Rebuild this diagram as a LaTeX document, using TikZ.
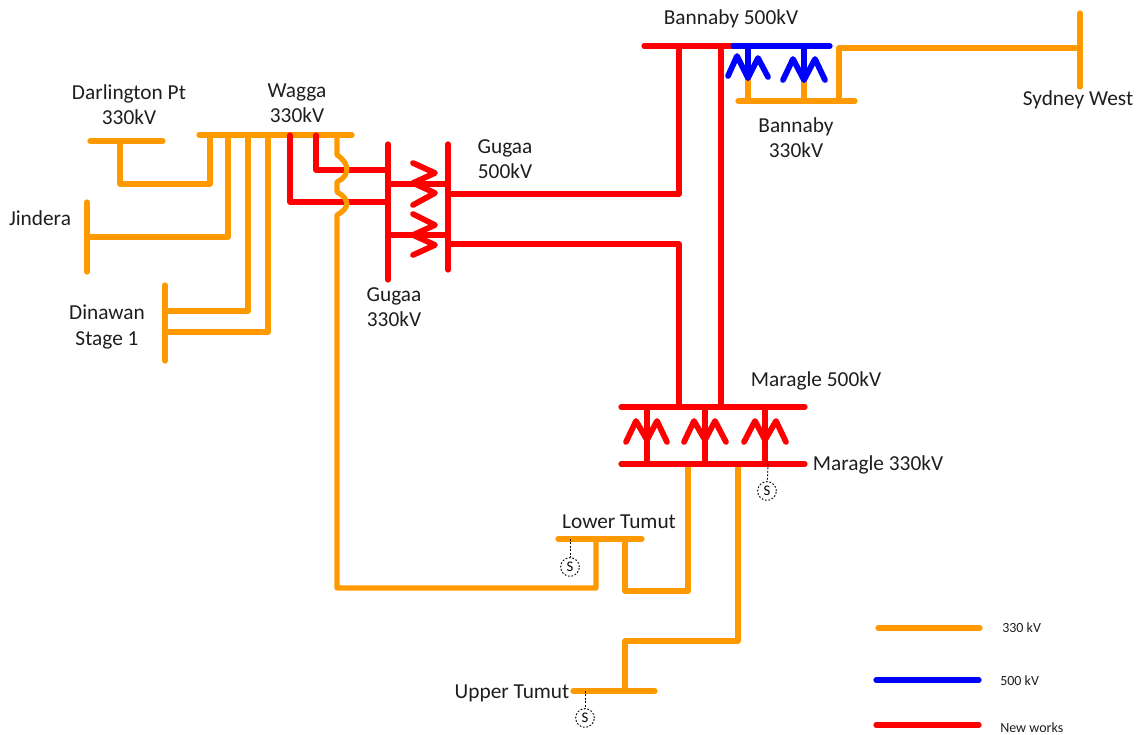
\documentclass[tikz,border=0pt]{standalone}
\usepackage{fontspec}
\setmainfont{Carlito}
\begin{document}
\begin{tikzpicture}[x=0.75pt,y=-0.75pt,line join=round,
  wire/.style={line width=3.9pt,line cap=round},
  kv/.style={wire,draw={rgb,255:red,255;green,153;blue,0}},
  nw/.style={wire,draw={rgb,255:red,255;green,0;blue,0}},
  hv/.style={wire,draw={rgb,255:red,0;green,0;blue,255}},
  coil/.style={line width=4.3pt},
  lbl/.style={font=\fontsize{16}{18.8}\selectfont,align=center,inner sep=0pt,text={rgb,255:red,30;green,30;blue,30}},
  leg/.style={font=\fontsize{10.5}{12}\selectfont,inner sep=0pt,text={rgb,255:red,30;green,30;blue,30}},
  gen/.style={circle,draw,dash pattern=on 1.3pt off 1.3pt,line width=0.7pt,minimum size=14pt,inner sep=0pt,font=\fontsize{11}{12}\selectfont},
  tap/.style={dash pattern=on 1.3pt off 1.3pt,line width=0.7pt}]
\useasboundingbox (0,0) rectangle (1136,735);
% bus ends and tee points
\coordinate (darlA) at (90,141); \coordinate (darlB) at (163,141); \coordinate (darlT) at (120,141);
\coordinate (waggaA) at (199,135); \coordinate (waggaB) at (352,135);
\coordinate (w1) at (210,135); \coordinate (w2) at (228,135); \coordinate (w3) at (248,135); \coordinate (w4) at (268,135);
\coordinate (w5) at (290,135); \coordinate (w6) at (316,135); \coordinate (w7) at (337,135);
\coordinate (jinA) at (87,202); \coordinate (jinB) at (87,272); \coordinate (jinT) at (87,237);
\coordinate (dinA) at (165,285); \coordinate (dinB) at (165,361); \coordinate (dinT1) at (165,311); \coordinate (dinT2) at (165,332);
\coordinate (g3A) at (388,144); \coordinate (g3B) at (388,280); \coordinate (g3T1) at (388,170); \coordinate (g3T2) at (388,202);
\coordinate (g3X1) at (388,184); \coordinate (g3X2) at (388,235);
\coordinate (g5A) at (448,144); \coordinate (g5B) at (448,270); \coordinate (g5X1) at (448,184); \coordinate (g5X2) at (448,235);
\coordinate (g5T1) at (448,194); \coordinate (g5T2) at (448,244);
\coordinate (b5A) at (644,46); \coordinate (b5M) at (733,46); \coordinate (b5B) at (830,46);
\coordinate (b5T1) at (679,46); \coordinate (b5T2) at (721,46); \coordinate (b5S1) at (748,46); \coordinate (b5S2) at (804,46);
\coordinate (b3A) at (738,101); \coordinate (b3B) at (855,101); \coordinate (b3S1) at (748,101); \coordinate (b3S2) at (804,101); \coordinate (b3T) at (839,101);
\coordinate (b1M) at (748,78); \coordinate (b2M) at (804,80);
\coordinate (sydA) at (1080,13); \coordinate (sydB) at (1080,87); \coordinate (sydT) at (1080,48);
\coordinate (m5A) at (621,407); \coordinate (m5B) at (805,407); \coordinate (m5T1) at (679,407); \coordinate (m5T2) at (721,407);
\coordinate (m5S1) at (647,407); \coordinate (m5S2) at (705,407); \coordinate (m5S3) at (765,407);
\coordinate (m3A) at (621,464); \coordinate (m3B) at (805,464);
\coordinate (m3S1) at (647,464); \coordinate (m3S2) at (705,464); \coordinate (m3S3) at (765,464);
\coordinate (m3T1) at (688,464); \coordinate (m3T2) at (738,464); \coordinate (m3G) at (768,464);
\coordinate (ltA) at (558,539); \coordinate (ltB) at (642,539); \coordinate (ltT1) at (596,539); \coordinate (ltT2) at (625,539); \coordinate (ltG) at (570,539);
\coordinate (utA) at (573,691); \coordinate (utB) at (655,691); \coordinate (utT) at (625,691); \coordinate (utG) at (585,691);
% 330 kV network
\draw[kv] (darlA) -- (darlB);
\draw[kv] (waggaA) -- (waggaB);
\draw[kv] (darlT) -- (120,184) -- (210,184) -- (w1);
\draw[kv] (jinA) -- (jinB);
\draw[kv] (jinT) -- (228,237) -- (w2);
\draw[kv] (dinA) -- (dinB);
\draw[kv] (dinT1) -- (248,311) -- (w3);
\draw[kv] (dinT2) -- (268,332) -- (w4);
\draw[kv] (b3A) -- (b3B);
\draw[kv] (b3S1) -- (b1M);
\draw[kv] (b3S2) -- (b2M);
\draw[kv] (b3T) -- (839,48) -- (sydT);
\draw[kv] (sydA) -- (sydB);
\draw[kv] (ltA) -- (ltB);
\draw[kv] (utA) -- (utB);
\draw[kv] (m3T1) -- (688,591) -- (625,591) -- (ltT2);
\draw[kv] (m3T2) -- (738,641) -- (625,641) -- (utT);
% new works
\draw[nw] (w5) -- (290,202) -- (g3T2);
\draw[nw] (w6) -- (316,170) -- (g3T1);
\draw[nw] (g3A) -- (g3B);
\draw[nw] (g5A) -- (g5B);
\draw[nw] (g3X1) -- (g5X1);
\draw[nw] (g3X2) -- (g5X2);
\draw[nw,coil] (413,163) -- (435,173) -- (413,183) -- (435,193) -- (413,205);
\draw[nw,coil] (413,214) -- (435,225) -- (413,235) -- (435,245) -- (413,255);
\draw[nw] (g5T1) -- (679,194) -- (b5T1);
\draw[nw] (g5T2) -- (679,244) -- (m5T1);
\draw[nw] (b5T2) -- (m5T2);
\draw[nw] (b5A) -- (b5M);
\draw[nw] (m5A) -- (m5B);
\draw[nw] (m3A) -- (m3B);
\draw[nw] (m5S1) -- (m3S1);
\draw[nw] (m5S2) -- (m3S2);
\draw[nw] (m5S3) -- (m3S3);
\draw[nw,coil] (626,442) -- (636,421) -- (647,440) -- (657,421) -- (667,442);
\draw[nw,coil] (684,442) -- (694,421) -- (705,440) -- (715,421) -- (726,442);
\draw[nw,coil] (744,442) -- (755,421) -- (765,440) -- (776,421) -- (786,442);
% 500 kV
\draw[hv] (b5M) -- (b5B);
\draw[hv] (b5S1) -- (b1M);
\draw[hv] (b5S2) -- (b2M);
\draw[hv,coil] (728,76) -- (737,56) -- (b1M) -- (758,58) -- (768,77);
\draw[hv,coil] (783,80) -- (793,59) -- (b2M) -- (815,59) -- (825,80);
% Wagga - Lower Tumut 330 kV with line hops, drawn last
\draw[kv] (w7) -- (337,155) .. controls (350,163) and (350,176) .. (337,182) -- (337,192)
  .. controls (350,199) and (350,208) .. (337,215) -- (337,588) -- (596,588) -- (ltT1);
% generators
\node[gen] (g1) at (767,491) {S};
\node[gen] (g2) at (570,567) {S};
\node[gen] (g3) at (585,718) {S};
\draw[tap] (m3G) -- (g1);
\draw[tap] (ltG) -- (g2);
\draw[tap] (utG) -- (g3);
% labels
\node[lbl] (tDarl) at (129,105) {Darlington Pt\\330kV};
\node[lbl] (tWagga) at (297,103) {Wagga\\330kV};
\node[lbl] (tJin) at (40,218) {Jindera};
\node[lbl] (tDin) at (107,327) {Dinawan\\Stage 1};
\node[lbl] (tG5) at (505,159) {Gugaa\\500kV};
\node[lbl] (tG3) at (394,307) {Gugaa\\330kV};
\node[lbl] (tB5) at (731,19) {Bannaby 500kV};
\node[lbl] (tB3) at (796,138) {Bannaby\\330kV};
\node[lbl] (tSyd) at (1078,100) {Sydney West};
\node[lbl] (tM5) at (816,381) {Maragle 500kV};
\node[lbl] (tM3) at (878,465) {Maragle 330kV};
\node[lbl] (tLT) at (619,522) {Lower Tumut};
\node[lbl] (tUT) at (512,693) {Upper Tumut};
% legend
\coordinate (l1a) at (878,628); \coordinate (l1b) at (980,628);
\coordinate (l2a) at (876,680); \coordinate (l2b) at (979,680);
\coordinate (l3a) at (876,725); \coordinate (l3b) at (979,725);
\draw[kv] (l1a) -- (l1b);
\draw[hv] (l2a) -- (l2b);
\draw[nw] (l3a) -- (l3b);
\node[leg,anchor=west] (t1) at (1002,628) {330 kV};
\node[leg,anchor=west] (t2) at (1000,681) {500 kV};
\node[leg,anchor=west] (t3) at (1000,728) {New works};
\end{tikzpicture}
\end{document}
